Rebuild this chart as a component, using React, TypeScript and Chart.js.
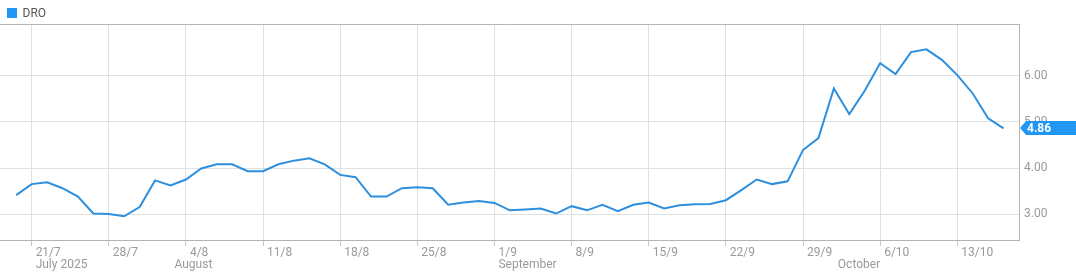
import React, { useEffect, useRef } from "react";
import { Chart, registerables } from "chart.js";

Chart.register(...registerables);

const seriesName = "DRO";

// trading days (D/M), 2025
const dates = [
  "18/7",
  "21/7", "22/7", "23/7", "24/7", "25/7",
  "28/7", "29/7", "30/7", "31/7", "1/8",
  "4/8", "5/8", "6/8", "7/8", "8/8",
  "11/8", "12/8", "13/8", "14/8", "15/8",
  "18/8", "19/8", "20/8", "21/8", "22/8",
  "25/8", "26/8", "27/8", "28/8", "29/8",
  "1/9", "2/9", "3/9", "4/9", "5/9",
  "8/9", "9/9", "10/9", "11/9", "12/9",
  "15/9", "16/9", "17/9", "18/9", "19/9",
  "22/9", "23/9", "24/9", "25/9", "26/9",
  "29/9", "30/9", "1/10", "2/10", "3/10",
  "6/10", "7/10", "8/10", "9/10", "10/10",
  "13/10", "14/10", "15/10", "16/10",
];

const values = [
  3.41,
  3.65, 3.69, 3.56, 3.38, 3.01,
  3.0, 2.95, 3.15, 3.73, 3.62,
  3.75, 3.99, 4.08, 4.08, 3.93,
  3.93, 4.08, 4.16, 4.21, 4.08,
  3.85, 3.8, 3.38, 3.38, 3.56,
  3.58, 3.56, 3.2, 3.25, 3.28,
  3.24, 3.08, 3.1, 3.12, 3.01,
  3.17, 3.08, 3.2, 3.06, 3.2,
  3.25, 3.12, 3.19, 3.21, 3.22,
  3.3, 3.52, 3.75, 3.65, 3.71,
  4.39, 4.65, 5.73, 5.17, 5.68,
  6.28, 6.04, 6.52, 6.58, 6.35,
  6.02, 5.62, 5.08, 4.86,
];

const weekTickLabels = ["21/7", "28/7", "4/8", "11/8", "18/8", "25/8", "1/9", "8/9", "15/9", "22/9", "29/9", "6/10", "13/10"];
const monthTickLabels = ["July 2025", "August", "September", "October"];
const monthTickDates = ["21/7", "1/8", "1/9", "1/10"];
const yTickValues = [3, 4, 5, 6];

const LINE_COLOR = "#2d8fde";
const BOX_COLOR = "#2196f3";
const GRID_COLOR = "#e0e0e0";
const BORDER_COLOR = "#b4b4b4";
const TEXT_COLOR = "#9a9a9a";

const X_MIN = -1.05;
const X_MAX = 65;

const framePlugin = {
  id: "frame",
  afterDraw(chart: any) {
    const { ctx, chartArea, width } = chart;
    ctx.save();
    // top border
    ctx.strokeStyle = BORDER_COLOR;
    ctx.lineWidth = 1;
    ctx.beginPath();
    ctx.moveTo(chartArea.left, chartArea.top + 0.5);
    ctx.lineTo(chartArea.right, chartArea.top + 0.5);
    ctx.stroke();

    // legend
    const ds = chart.data.datasets[0];
    ctx.fillStyle = BOX_COLOR;
    ctx.fillRect(7, 8, 10, 10);
    ctx.fillStyle = "#555";
    ctx.font = "12px Roboto";
    ctx.textAlign = "left";
    ctx.textBaseline = "middle";
    ctx.fillText(ds.label, 22.5, 13.5);

    // last value label
    const data = ds.data;
    const last = data[data.length - 1];
    const yScale = chart.scales.y;
    const py = Math.round(yScale.getPixelForValue(last.y));
    const x0 = chartArea.right + 1;
    ctx.fillStyle = BOX_COLOR;
    ctx.beginPath();
    ctx.moveTo(x0, py);
    ctx.lineTo(x0 + 6, py - 7);
    ctx.lineTo(width, py - 7);
    ctx.lineTo(width, py + 7);
    ctx.lineTo(x0 + 6, py + 7);
    ctx.closePath();
    ctx.fill();
    ctx.fillStyle = "#fff";
    ctx.font = "bold 12px Roboto";
    ctx.textBaseline = "middle";
    ctx.fillText(last.y.toFixed(2), x0 + 7, py + 0.5);
    ctx.restore();
  },
};

export default function App() {
  const ref = useRef<HTMLCanvasElement | null>(null);

  useEffect(() => {
    if (!ref.current) return;
    Chart.defaults.font.family = "Roboto";
    const chart = new Chart(ref.current, {
      type: "line",
      data: {
        datasets: [
          {
            label: seriesName,
            data: values.map((v, i) => ({ x: i, y: v })),
            borderColor: LINE_COLOR,
            backgroundColor: LINE_COLOR,
            borderWidth: 2,
            pointRadius: 0,
            tension: 0,
            fill: false,
            xAxisID: "x",
            yAxisID: "y",
          },
        ],
      },
      options: {
        responsive: false,
        animation: false,
        layout: { padding: { top: 24, left: 0, right: 0, bottom: 0 } },
        plugins: {
          legend: { display: false },
          tooltip: { enabled: false },
        },
        scales: {
          x: {
            type: "linear",
            position: "bottom",
            weight: 0,
            min: X_MIN,
            max: X_MAX,
            afterBuildTicks: (s: any) => {
              s.ticks = weekTickLabels.map((l) => ({ value: dates.indexOf(l) }));
            },
            afterFit: (s: any) => {
              s.height = 18;
            },
            ticks: {
              autoSkip: false,
              maxRotation: 0,
              align: "start",
              labelOffset: 4,
              padding: 0,
              color: TEXT_COLOR,
              font: { size: 12, family: "Roboto" },
              callback: (v: any) => dates[v as number],
            },
            grid: {
              color: GRID_COLOR,
              tickColor: "#c8c8c8",
              tickLength: 6,
              drawTicks: true,
            },
            border: { color: BORDER_COLOR, width: 1 },
          },
          x2: {
            type: "linear",
            position: "bottom",
            weight: 1,
            min: X_MIN,
            max: X_MAX,
            afterBuildTicks: (s: any) => {
              s.ticks = monthTickDates.map((d) => ({ value: dates.indexOf(d) }));
            },
            afterFit: (s: any) => {
              s.height = 19;
            },
            ticks: {
              autoSkip: false,
              maxRotation: 0,
              align: "start",
              labelOffset: 4,
              padding: 0,
              color: TEXT_COLOR,
              font: { size: 12, family: "Roboto" },
              callback: (v: any) => monthTickLabels[monthTickDates.indexOf(dates[v as number])],
            },
            grid: { display: false, drawTicks: false },
            border: { display: false },
          },
          y: {
            type: "linear",
            position: "right",
            min: 2.435,
            max: 7.13,
            afterBuildTicks: (s: any) => {
              s.ticks = yTickValues.map((v) => ({ value: v }));
            },
            afterFit: (s: any) => {
              s.width = 57;
            },
            ticks: {
              padding: 5,
              color: TEXT_COLOR,
              font: { size: 12, family: "Roboto" },
              callback: (v: any) => Number(v).toFixed(2),
            },
            grid: { color: GRID_COLOR, drawTicks: false },
            border: { color: BORDER_COLOR, width: 1 },
          },
        },
      },
      plugins: [framePlugin],
    } as any);
    return () => chart.destroy();
  }, []);

  return (
    <div style={{ position: "fixed", left: 0, top: 0, width: 1076, height: 277, background: "#fff" }}>
      <canvas ref={ref} width={1076} height={277} style={{ display: "block" }} />
    </div>
  );
}
